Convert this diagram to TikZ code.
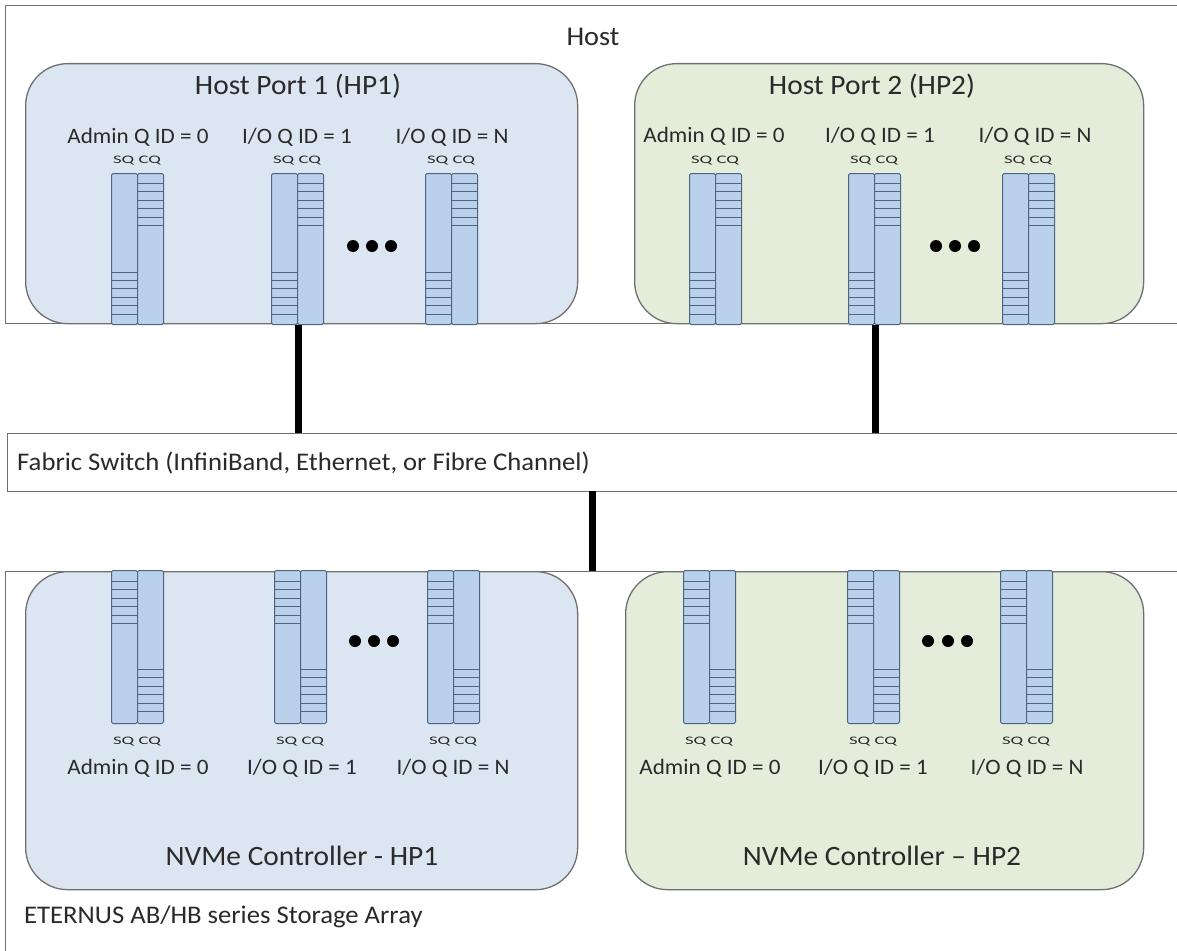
\documentclass[tikz,border=0pt]{standalone}
\usepackage{fontspec}
\usepackage{graphicx}
\setmainfont{Carlito}[FakeStretch=1.05]
\definecolor{boxgray}{HTML}{707070}
\definecolor{hpblue}{HTML}{DCE6F2}
\definecolor{hpgreen}{HTML}{E3EDDA}
\definecolor{qblue}{HTML}{B9D1EA}
\definecolor{qedge}{HTML}{4F6480}
\definecolor{txt}{HTML}{2A2A2A}

% the small, wide "SQ CQ" caption above/below each queue pair
\newcommand\sqcqtext{\scalebox{1.55}[1]{SQ CQ}}

% host-side queue pair: SQ entries at the bottom, CQ entries at the top
\newcommand\hostqueue[2]{%
  \node[qbar, minimum height=151pt] (#1sq) at (#2,173) {};
  \node[qbar, minimum height=151pt] (#1cq) at (#2+26,173) {};
  \foreach \y in {272,280.4,288.8,297.2,305.6,314}
    \draw[qline] (#2,\y) -- (#2+26,\y);
  \foreach \y in {183,191.5,200,208.5,217,225.5}
    \draw[qline] (#2+26,\y) -- (#2+52,\y);
  \node[sqcq] at (#2+26,161) {\sqcqtext};
}
% controller-side queue pair: SQ entries at the top, CQ entries at the bottom
\newcommand\ctrlqueue[2]{%
  \node[qbar, minimum height=153pt] (#1sq) at (#2,570) {};
  \node[qbar, minimum height=153pt] (#1cq) at (#2+26,570) {};
  \foreach \y in {581,589.5,598,606.5,615,623.5}
    \draw[qline] (#2,\y) -- (#2+26,\y);
  \foreach \y in {669,677.5,686,694.5,703,711.5}
    \draw[qline] (#2+26,\y) -- (#2+52,\y);
  \node[sqcq] at (#2+26,742) {\sqcqtext};
}

\begin{document}
\begin{tikzpicture}[x=1pt,y=-1pt,
  frame/.style={draw=boxgray, line width=1.3pt, fill=white, inner sep=0, anchor=north west},
  port/.style={frame, rounded corners=42pt},
  qbar/.style={draw=qedge, fill=qblue, line width=1pt, rounded corners=1.5pt,
    inner sep=0, minimum width=26pt, anchor=north west},
  qline/.style={draw=qedge, line width=1pt},
  link/.style={line width=7pt},
  dot/.style={circle, fill=black, inner sep=0, minimum size=12pt},
  title/.style={text=txt, font=\fontsize{28}{32}\selectfont, inner sep=0},
  banner/.style={text=txt, font=\fontsize{25.4}{30}\selectfont, inner sep=0, anchor=west},
  qlabel/.style={text=txt, font=\fontsize{22}{26}\selectfont, inner sep=0},
  sqcq/.style={text=txt, font=\fontsize{11.5}{13}\selectfont, inner sep=0}]
\useasboundingbox (0,0) rectangle (1177,950);

% ---- host ----
\node[frame, minimum width=1180pt, minimum height=318pt] (host) at (5,5) {};
\node[title, font=\fontsize{27}{31}\selectfont] at (593,37) {Host};
\node[port, fill=hpblue, minimum width=552pt, minimum height=260pt] (hp1) at (25,63) {};
\node[port, fill=hpgreen, minimum width=509pt, minimum height=260pt] (hp2) at (634,63) {};
\node[title] at (298,86) {Host Port 1 (HP1)};
\node[title] at (872,86) {Host Port 2 (HP2)};

\node[qlabel] at (138,137) {Admin Q ID = 0};
\node[qlabel] at (297,137) {I/O Q ID = 1};
\node[qlabel] at (452,137) {I/O Q ID = N};
\node[qlabel] at (714,136) {Admin Q ID = 0};
\node[qlabel] at (880,136) {I/O Q ID = 1};
\node[qlabel] at (1035,136) {I/O Q ID = N};

\hostqueue{ha}{111}
\hostqueue{hb}{271}
\hostqueue{hc}{425}
\hostqueue{hd}{689}
\hostqueue{he}{848}
\hostqueue{hf}{1002}

\foreach \x in {353,372,391} \node[dot] at (\x,246) {};
\foreach \x in {936,955,974} \node[dot] at (\x,246) {};

% ---- fabric ----
\node[frame, minimum width=1175pt, minimum height=58pt] (fabric) at (7,433) {};
\node[banner] at (17,463) {Fabric Switch (InfiniBand, Ethernet, or Fibre Channel)};

% ---- storage array ----
\node[frame, minimum width=1180pt, minimum height=400pt] (array) at (5,571) {};
\node[port, fill=hpblue, minimum width=552pt, minimum height=318pt] (c1) at (25,571) {};
\node[port, fill=hpgreen, minimum width=518pt, minimum height=318pt] (c2) at (625,571) {};

\ctrlqueue{sa}{111}
\ctrlqueue{sb}{274}
\ctrlqueue{sc}{427}
\ctrlqueue{sd}{683}
\ctrlqueue{se}{847}
\ctrlqueue{sf}{1000}

\foreach \x in {355,374,393} \node[dot] at (\x,641) {};
\foreach \x in {928,948,967} \node[dot] at (\x,641) {};

\node[qlabel] at (138,768) {Admin Q ID = 0};
\node[qlabel] at (302,768) {I/O Q ID = 1};
\node[qlabel] at (453,768) {I/O Q ID = N};
\node[qlabel] at (710,768) {Admin Q ID = 0};
\node[qlabel] at (873,768) {I/O Q ID = 1};
\node[qlabel] at (1027,768) {I/O Q ID = N};

\node[title] at (302,856) {NVMe Controller - HP1};
\node[title] at (882,856) {NVMe Controller – HP2};
\node[banner] at (24,917) {ETERNUS AB/HB series Storage Array};

% ---- links ----
\coordinate (fabout) at (592,491);
\draw[link] (hbsq.south east) -- (hbsq.south east |- fabric.north);
\draw[link] (hesq.south east) -- (hesq.south east |- fabric.north);
\draw[link] (fabout) -- (fabout |- array.north);
\end{tikzpicture}
\end{document}
